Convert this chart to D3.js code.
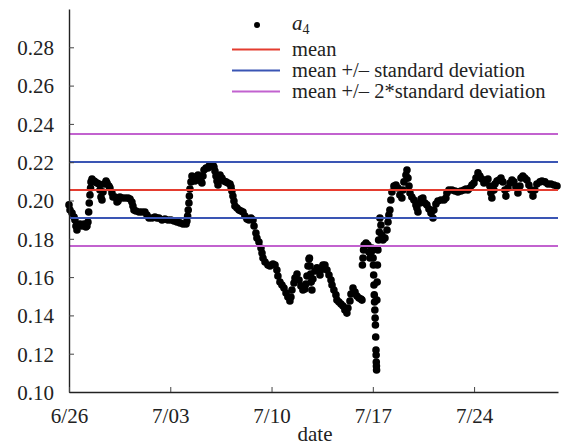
<html>
<head>
<script src="https://d3js.org/d3.v7.min.js"></script>
</head>
<body style="margin:0; background:#fff">
<svg id="chart" width="565" height="447"></svg>
<script>
// days since 6/26 00:00
const days = [
  0.00, 0.07, 0.21, 0.35, 0.41, 0.48, 0.55, 0.62, 0.76, 0.90, 1.04, 1.17, 1.24, 1.31, 1.36, 1.40, 1.45, 1.49, 1.52, 1.59,
  1.73, 1.80, 1.94, 2.07, 2.14, 2.21, 2.28, 2.35, 2.42, 2.56, 2.63, 2.76, 2.83, 2.97, 3.04, 3.18, 3.32, 3.39, 3.52, 3.66,
  3.87, 4.08, 4.22, 4.35, 4.42, 4.49, 4.63, 4.84, 5.04, 5.25, 5.39, 5.53, 5.74, 5.94, 6.08, 6.22, 6.43, 6.63, 6.84, 7.05,
  7.26, 7.46, 7.67, 7.88, 8.09, 8.15, 8.20, 8.24, 8.29, 8.32, 8.36, 8.43, 8.50, 8.64, 8.71, 8.78, 8.92, 9.05, 9.12, 9.19,
  9.26, 9.33, 9.47, 9.61, 9.68, 9.81, 9.95, 10.02, 10.09, 10.16, 10.23, 10.30, 10.37, 10.44, 10.57, 10.71, 10.85, 10.99, 11.13, 11.20,
  11.26, 11.33, 11.40, 11.47, 11.61, 11.75, 11.89, 12.03, 12.16, 12.30, 12.44, 12.58, 12.72, 12.79, 12.92, 12.99, 13.13, 13.27, 13.34, 13.41,
  13.55, 13.75, 13.89, 14.10, 14.24, 14.37, 14.44, 14.58, 14.72, 14.86, 15.00, 15.13, 15.27, 15.34, 15.41, 15.55, 15.62, 15.76, 15.90, 16.03,
  16.17, 16.31, 16.38, 16.45, 16.52, 16.59, 16.62, 16.66, 16.70, 16.74, 16.79, 16.86, 17.00, 17.14, 17.28, 17.35, 17.41, 17.55, 17.69, 17.83,
  17.97, 18.11, 18.18, 18.31, 18.45, 18.52, 18.66, 18.80, 18.94, 19.07, 19.21, 19.28, 19.42, 19.49, 19.63, 19.77, 19.90, 20.04, 20.18, 20.25,
  20.28, 20.32, 20.36, 20.40, 20.53, 20.66, 20.73, 20.80, 20.87, 20.94,
  21.00, 21.02, 21.04, 21.06, 21.08, 21.10, 21.12, 21.14, 21.16, 21.18, 21.20, 21.22, 21.23, 21.24, 21.25, 21.26, 21.28, 21.30, 21.32, 21.35,
  21.40, 21.45, 21.49, 21.56, 21.63, 21.70, 21.84, 21.98, 22.05, 22.11, 22.18, 22.25, 22.32, 22.46, 22.60, 22.74, 22.87, 23.01, 23.08, 23.15,
  23.29, 23.36, 23.43, 23.50, 23.57, 23.70, 23.84, 23.98, 24.05, 24.12, 24.26, 24.33, 24.46, 24.60, 24.74, 24.88, 25.02, 25.16, 25.22, 25.36,
  25.50, 25.71, 25.92, 26.05, 26.12, 26.26, 26.47, 26.68, 26.88, 27.09, 27.30, 27.44, 27.57, 27.71, 27.85, 27.99, 28.13, 28.27, 28.40, 28.54,
  28.68, 28.82, 28.96, 29.09, 29.16, 29.23, 29.37, 29.44, 29.58, 29.72, 29.86, 29.99, 30.13, 30.20, 30.34, 30.48, 30.62, 30.75, 30.89, 31.03,
  31.17, 31.24, 31.37, 31.51, 31.65, 31.79, 31.93, 32.07, 32.20, 32.34, 32.55, 32.69, 32.90, 33.10, 33.31, 33.52, 33.73
];
const a4 = [
  0.1977, 0.1950, 0.1935, 0.1914, 0.1898, 0.1867, 0.1846, 0.1867, 0.1877, 0.1867, 0.1877, 0.1862, 0.1867, 0.1888, 0.1940, 0.1987, 0.2029, 0.2065, 0.2097, 0.2112,
  0.2102, 0.2097, 0.2091, 0.2086, 0.2055, 0.2018, 0.2003, 0.2044, 0.2086, 0.2102, 0.2091, 0.2076, 0.2065, 0.2039, 0.2018, 0.2018, 0.1992, 0.1997, 0.2018, 0.2013,
  0.2013, 0.2013, 0.2008, 0.1992, 0.1971, 0.1950, 0.1945, 0.1940, 0.1940, 0.1940, 0.1924, 0.1909, 0.1909, 0.1914, 0.1909, 0.1909, 0.1898, 0.1903, 0.1898, 0.1898,
  0.1893, 0.1888, 0.1883, 0.1877, 0.1877, 0.1893, 0.1919, 0.1950, 0.1987, 0.2023, 0.2060, 0.2097, 0.2128, 0.2117, 0.2102, 0.2123, 0.2133, 0.2123, 0.2102, 0.2091,
  0.2128, 0.2159, 0.2170, 0.2170, 0.2180, 0.2185, 0.2185, 0.2175, 0.2154, 0.2128, 0.2102, 0.2081, 0.2107, 0.2133, 0.2117, 0.2102, 0.2097, 0.2091, 0.2086, 0.2071,
  0.2050, 0.2023, 0.1997, 0.1971, 0.1961, 0.1950, 0.1945, 0.1940, 0.1919, 0.1903, 0.1898, 0.1909, 0.1898, 0.1867, 0.1830, 0.1804, 0.1783, 0.1752, 0.1726, 0.1700,
  0.1679, 0.1663, 0.1658, 0.1668, 0.1663, 0.1637, 0.1606, 0.1574, 0.1559, 0.1543, 0.1517, 0.1496, 0.1475, 0.1496, 0.1533, 0.1569, 0.1595, 0.1616, 0.1585, 0.1554,
  0.1533, 0.1538, 0.1564, 0.1606, 0.1658, 0.1694, 0.1700, 0.1658, 0.1616, 0.1574, 0.1533, 0.1590, 0.1632, 0.1648, 0.1637, 0.1611, 0.1637, 0.1663, 0.1663, 0.1637,
  0.1611, 0.1585, 0.1559, 0.1533, 0.1507, 0.1480, 0.1470, 0.1459, 0.1449, 0.1428, 0.1412, 0.1438, 0.1475, 0.1512, 0.1543, 0.1522, 0.1501, 0.1491, 0.1486, 0.1480,
  0.1663, 0.1700, 0.1742, 0.1768, 0.1778, 0.1768, 0.1731, 0.1700, 0.1726, 0.1752,
  0.1742, 0.1700, 0.1663, 0.1611, 0.1559, 0.1507, 0.1470, 0.1428, 0.1386, 0.1350, 0.1287, 0.1219, 0.1193, 0.1157, 0.1136, 0.1115, 0.1480, 0.1574, 0.1663, 0.1742,
  0.1794, 0.1835, 0.1909, 0.1872, 0.1820, 0.1794, 0.1804, 0.1846, 0.1888, 0.1924, 0.1950, 0.2003, 0.2044, 0.2076, 0.2081, 0.2065, 0.2029, 0.2013, 0.2055, 0.2097,
  0.2133, 0.2159, 0.2117, 0.2076, 0.2039, 0.2018, 0.2003, 0.1977, 0.1961, 0.1940, 0.1987, 0.2008, 0.2013, 0.1987, 0.1977, 0.1956, 0.1935, 0.1909, 0.1950, 0.1982,
  0.1997, 0.2003, 0.2003, 0.2013, 0.2039, 0.2055, 0.2055, 0.2050, 0.2044, 0.2050, 0.2055, 0.2060, 0.2055, 0.2065, 0.2081, 0.2091, 0.2117, 0.2144, 0.2128, 0.2112,
  0.2091, 0.2102, 0.2112, 0.2076, 0.2039, 0.2013, 0.2055, 0.2086, 0.2102, 0.2107, 0.2117, 0.2097, 0.2055, 0.2023, 0.2065, 0.2091, 0.2107, 0.2097, 0.2071, 0.2039,
  0.2076, 0.2117, 0.2128, 0.2117, 0.2107, 0.2081, 0.2055, 0.2023, 0.2055, 0.2086, 0.2097, 0.2102, 0.2097, 0.2086, 0.2086, 0.2081, 0.2076
];

const mean = 0.2055;
const sd = 0.0146;
const yTicks = [0.10, 0.12, 0.14, 0.16, 0.18, 0.20, 0.22, 0.24, 0.26, 0.28];
const xTicks = [0, 7, 14, 21, 28];
const xTickLabels = ["6/26", "7/03", "7/10", "7/17", "7/24"];
const legendNames = ["mean", "mean +/\u2013 standard deviation", "mean +/\u2013 2*standard deviation"];
const legendColors = ["#e43c2f", "#3a55b4", "#c262cf"];

const serif = "'Liberation Serif', 'Times New Roman', Times";
const fontSize = "21px";

const svg = d3.select("svg#chart");
const margins = { top: 9, right: 7, bottom: 55, left: 69 };
const width = +svg.attr("width");
const height = +svg.attr("height");
const chartWidth = width - margins.left - margins.right;
const chartHeight = height - margins.top - margins.bottom;

const xScale = d3.scaleLinear().domain([0, 33.8]).range([margins.left, margins.left + chartWidth]);
const yScale = d3.scaleLinear().domain([0.10, 0.30]).range([margins.top + chartHeight, margins.top]);

// reference lines
const refLines = [
  { v: mean + 2 * sd, c: legendColors[2] },
  { v: mean - 2 * sd, c: legendColors[2] },
  { v: mean + sd, c: legendColors[1] },
  { v: mean - sd, c: legendColors[1] },
  { v: mean, c: legendColors[0] }
];

// points
const pts = days.map((d, i) => ({ day: d, val: a4[i] }));
svg.append("g").selectAll("circle").data(pts)
  .join("circle")
  .attr("cx", d => xScale(d.day))
  .attr("cy", d => yScale(d.val))
  .attr("r", 3.8)
  .attr("fill", "#000");

svg.append("g").selectAll("line").data(refLines)
  .join("line")
  .attr("x1", margins.left)
  .attr("x2", margins.left + chartWidth)
  .attr("y1", d => yScale(d.v))
  .attr("y2", d => yScale(d.v))
  .attr("stroke", d => d.c)
  .attr("stroke-width", 2);

// axes
const leftA = d3.axisLeft(yScale).tickValues(yTicks).tickFormat(d3.format(".2f"))
  .tickSizeInner(-5).tickSizeOuter(0).tickPadding(15);
const yAxis = svg.append("g")
  .attr("transform", `translate(${margins.left},0)`)
  .call(leftA);

const bottomA = d3.axisBottom(xScale).tickValues(xTicks).tickFormat((d, i) => xTickLabels[i])
  .tickSizeInner(-5).tickSizeOuter(0).tickPadding(16);
const xAxis = svg.append("g")
  .attr("transform", `translate(0,${margins.top + chartHeight})`)
  .call(bottomA);

[yAxis, xAxis].forEach(ax => {
  ax.attr("font-family", null).attr("font-size", null);
  ax.select(".domain").attr("stroke", "#222").attr("stroke-width", 1.4);
  ax.selectAll(".tick line").attr("stroke", "#444");
  ax.selectAll("text")
    .style("font-family", serif)
    .style("font-size", fontSize)
    .attr("fill", "#222");
});
yAxis.selectAll("text").attr("dy", "0.35em");

svg.append("text")
  .attr("x", 315)
  .attr("y", 441)
  .attr("text-anchor", "middle")
  .style("font-family", serif)
  .style("font-size", fontSize)
  .attr("fill", "#222")
  .text("date");

// legend
const legend = svg.append("g");
legend.append("circle").attr("cx", 257).attr("cy", 25).attr("r", 3).attr("fill", "#000");
const lab = legend.append("text").attr("x", 292).attr("y", 30)
  .style("font-family", serif).style("font-size", fontSize).attr("fill", "#222");
lab.append("tspan").style("font-style", "italic").text("a");
lab.append("tspan").style("font-size", "14px").attr("dy", 4).text("4");

legendNames.forEach((name, i) => {
  const ly = 49.5 + i * 21;
  legend.append("line")
    .attr("x1", 232).attr("x2", 280)
    .attr("y1", ly).attr("y2", ly)
    .attr("stroke", legendColors[i]).attr("stroke-width", 2);
  legend.append("text")
    .attr("x", 292).attr("y", ly + 6)
    .style("font-family", serif)
    .style("font-size", "20.5px")
    .attr("fill", "#222")
    .text(name);
});
</script>
</body>
</html>
